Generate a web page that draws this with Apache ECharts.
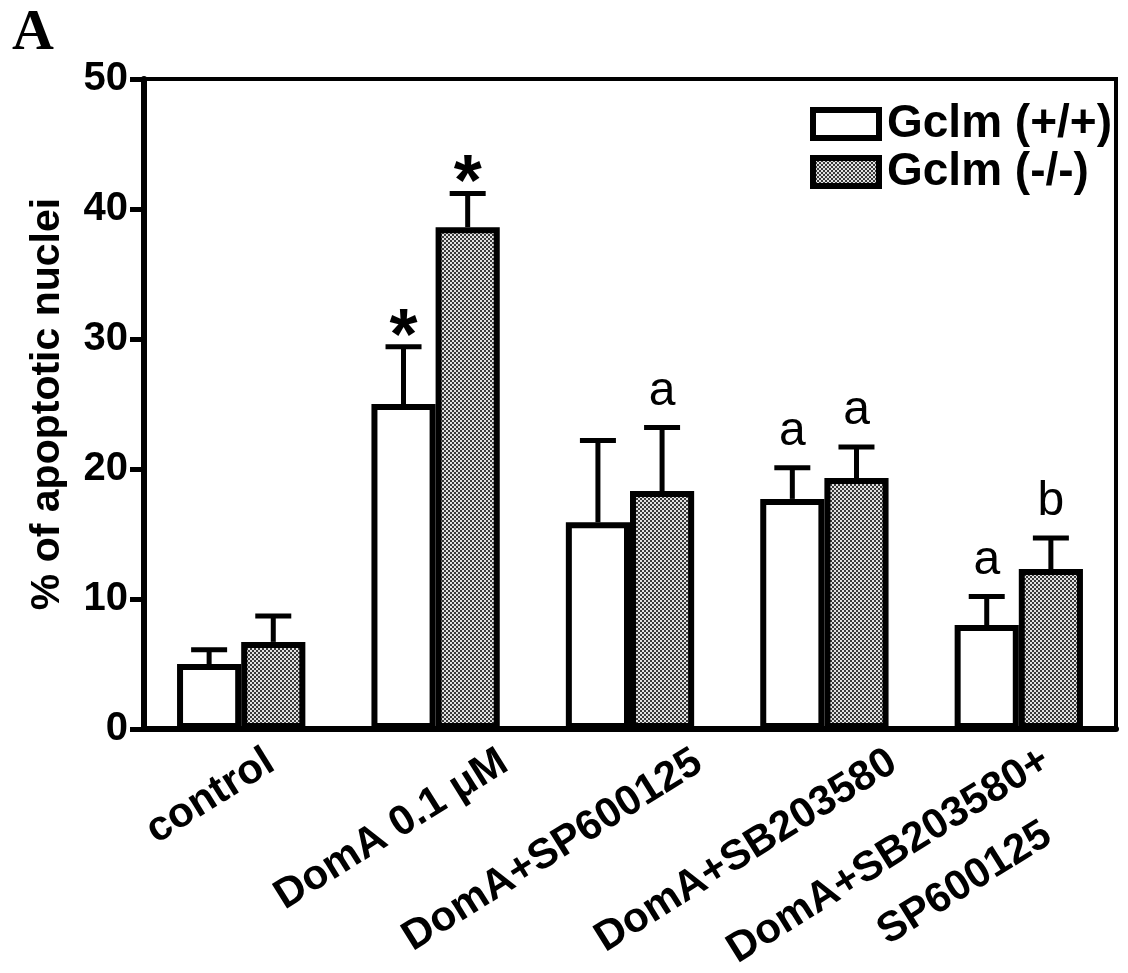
<!DOCTYPE html>
<html><head><meta charset="utf-8">
<script src="https://cdn.jsdelivr.net/npm/echarts@6/dist/echarts.min.js"></script>
<style>html,body{margin:0;padding:0;background:#fff}#c{width:1128px;height:973px}</style>
</head><body><div id="c"></div>
<script>
// ---- data ----
const categories = ['control', 'DomA 0.1 μM', 'DomA+SP600125', 'DomA+SB203580', 'DomA+SB203580+\nSP600125'];
const seriesNames = ['Gclm (+/+)', 'Gclm (-/-)'];
const wtMean = [5.0, 25.0, 15.9, 17.7, 8.0];
const wtSem  = [1.1, 4.4, 6.3, 2.4, 2.2];
const koMean = [6.7, 38.6, 18.3, 19.3, 12.3];
const koSem  = [2.0, 2.6, 4.9, 2.4, 2.4];
const wtNotes = ['', '*', '', 'a', 'a'];
const koNotes = ['', '*', 'a', 'a', 'b'];
const yMin = 0, yMax = 50, yStep = 10;

// ---- style ----
const FONT = "'Liberation Sans', Arial, Helvetica, sans-serif";
const GAP = 0.34;                 // barCategoryGap
const HALF = (1 - GAP) / 4;       // offset of each bar centre from category centre (fraction of band)

const pc = document.createElement('canvas');
pc.width = 4; pc.height = 4;
const g = pc.getContext('2d');
g.fillStyle = '#3a3a3a'; g.fillRect(0, 0, 4, 4);
g.fillStyle = '#e2e2e2'; g.fillRect(0, 0, 2, 2); g.fillRect(2, 2, 2, 2);
const dots = { image: pc, repeat: 'repeat' };

function errRender(notes, side) {
  return function (params, api) {
    const i = api.value(0), m = api.value(1), e = api.value(2);
    const band = api.size([1, 0])[0];
    const base = api.coord([i, m]);
    const top = api.coord([i, m + e]);
    const x = base[0] + side * band * HALF;
    const children = [
      { type: 'line', shape: { x1: x, y1: base[1], x2: x, y2: top[1] }, style: { stroke: '#000', lineWidth: 5 } },
      { type: 'line', shape: { x1: x - 18, y1: top[1], x2: x + 18, y2: top[1] }, style: { stroke: '#000', lineWidth: 5 } }
    ];
    const note = notes[params.dataIndex];
    if (note === '*') {
      children.push({ type: 'text', style: { text: '*', x: x, y: top[1] - 8, fill: '#000', font: 'bold 72px ' + FONT, align: 'center', verticalAlign: 'middle' } });
    } else if (note) {
      children.push({ type: 'text', style: { text: note, x: x, y: top[1] - 12, fill: '#000', font: '48px ' + FONT, align: 'center', verticalAlign: 'bottom' } });
    }
    return { type: 'group', children: children };
  };
}

const LBL = { fontFamily: FONT, fontWeight: 'bold', fontSize: 42, lineHeight: 64, color: '#000', align: 'center' };

const chart = echarts.init(document.getElementById('c'), null, { renderer: 'canvas' });
chart.setOption({
  animation: false,
  backgroundColor: '#fff',
  title: { text: 'A', left: 12, top: 5, padding: 0,
    textStyle: { fontFamily: "'Liberation Serif', 'Times New Roman', serif", fontWeight: 'bold', fontSize: 58, color: '#000' } },
  legend: {
    data: seriesNames, orient: 'vertical', left: 810, top: 101, padding: 0, itemGap: 2,
    itemWidth: 66, itemHeight: 28, icon: 'rect', selectedMode: false,
    itemStyle: { borderWidth: 6, borderColor: '#000' },
    textStyle: { fontSize: 46, fontWeight: 'bold', fontFamily: FONT, color: '#000', lineHeight: 46, padding: [0, 0, 0, 3] }
  },
  grid: { left: 144, right: 12, top: 79, bottom: 244, containLabel: false, outerBoundsMode: 'none',
    show: true, borderColor: '#000', borderWidth: 4, backgroundColor: 'transparent' },
  xAxis: {
    type: 'category', data: categories,
    axisLine: { lineStyle: { color: '#000', width: 6 } },
    axisTick: { show: false },
    axisLabel: {
      interval: 0, rotate: 32, margin: 73, padding: [0, -81, 0, 0],
      color: '#000', fontFamily: FONT, fontWeight: 'bold', fontSize: 42,
      formatter: function (v, idx) {
        const lines = v.split('\n');
        if (idx === 0) return '{k|' + lines[0] + '}';
        if (lines.length > 1) return '{l1|' + lines[0] + '}\n{l2|' + lines[1] + '}';
        return '{c|' + lines[0] + '}';
      },
      rich: {
        c: LBL,
        k: Object.assign({}, LBL, { padding: [0, 33, 42, 0] }),
        l1: Object.assign({}, LBL, { padding: [17, 34, 0, 0] }),
        l2: Object.assign({}, LBL, { padding: [17, 0, 0, 65] })
      }
    },
    splitLine: { show: false }
  },
  yAxis: {
    type: 'value', min: yMin, max: yMax, interval: yStep,
    name: '% of apoptotic nuclei', nameLocation: 'middle', nameRotate: 90, nameGap: 76,
    nameTextStyle: { fontFamily: FONT, fontWeight: 'bold', fontSize: 41, color: '#000' },
    axisLine: { show: true, lineStyle: { color: '#000', width: 6 } },
    axisTick: { show: true, inside: false, length: 14, lineStyle: { color: '#000', width: 5 } },
    axisLabel: { margin: 16, color: '#000', fontFamily: FONT, fontWeight: 'bold', fontSize: 40 },
    splitLine: { show: false }
  },
  series: [
    { type: 'bar', name: seriesNames[0], data: wtMean, barGap: '0%', barCategoryGap: (GAP * 100) + '%',
      itemStyle: { color: '#fff', borderColor: '#000', borderWidth: 6 }, z: 2 },
    { type: 'bar', name: seriesNames[1], data: koMean,
      itemStyle: { color: dots, borderColor: '#000', borderWidth: 6 }, z: 2 },
    { type: 'custom', data: wtMean.map(function (m, i) { return [i, m, wtSem[i]]; }),
      encode: { x: 0, y: 1 }, renderItem: errRender(wtNotes, -1), z: 1 },
    { type: 'custom', data: koMean.map(function (m, i) { return [i, m, koSem[i]]; }),
      encode: { x: 0, y: 1 }, renderItem: errRender(koNotes, 1), z: 1 }
  ]
});
</script></body></html>
